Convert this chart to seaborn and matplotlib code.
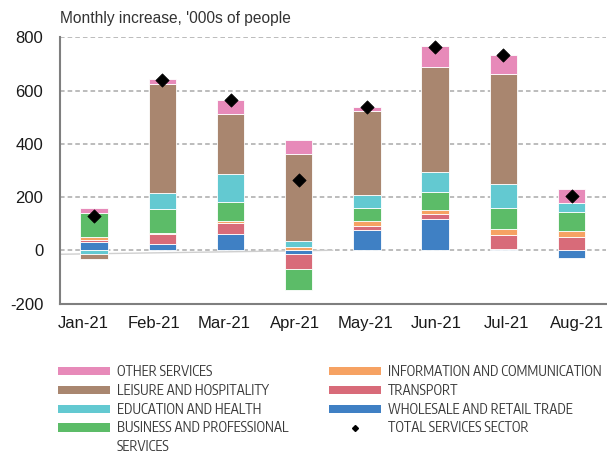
import numpy as np
import pandas as pd
import matplotlib
matplotlib.use("Agg")
import matplotlib.pyplot as plt
import seaborn as sns
from matplotlib.patches import Patch
from matplotlib.lines import Line2D
from matplotlib.ticker import FixedLocator
from matplotlib import font_manager

# ---------------- data ----------------
months = ["Jan-21", "Feb-21", "Mar-21", "Apr-21", "May-21", "Jun-21", "Jul-21", "Aug-21"]
wholesale_retail = [32, 22, 61, -15, 75, 116, 6, -29]
transport = [8, 38, 43, -55, 15, 21, 53, 50]
info_comm = [11, 5, 5, 11, 19, 14, 22, 21]
business_prof = [89, 91, 73, -79, 51, 69, 79, 73]
education_health = [-15, 58, 104, 24, 46, 74, 89, 35]
leisure_hosp = [-16, 411, 226, 326, 318, 395, 413, 0]
other_services = [20, 17, 52, 55, 13, 77, 70, 51]
total_services = [127, 641, 564, 265, 537, 764, 732, 202]
faint_line_y = [-15, 0]
y_ticks = [-200, 0, 200, 400, 600, 800]

series = [
    ("WHOLESALE AND RETAIL TRADE", wholesale_retail, "#3F80C4"),
    ("TRANSPORT", transport, "#D86B79"),
    ("INFORMATION AND COMMUNICATION", info_comm, "#F6A263"),
    ("BUSINESS AND PROFESSIONAL", business_prof, "#5CBC68"),
    ("EDUCATION AND HEALTH", education_health, "#63C9D1"),
    ("LEISURE AND HOSPITALITY", leisure_hosp, "#A9866F"),
    ("OTHER SERVICES", other_services, "#E78AB9"),
]
colors = {lab: c for lab, _, c in series}

# ---------------- style ----------------
sns.set_style("white")
plt.rcParams["font.family"] = ["Liberation Sans", "DejaVu Sans"]


def _is_regular(f):
    w = f.weight
    return (w in (400, "normal", "regular", "book", "Regular")) and f.style == "normal"


narrow = None
for f in font_manager.fontManager.ttflist:
    if f.name == "Liberation Sans Narrow" and _is_regular(f):
        narrow = f
        break
if narrow is None:
    for f in font_manager.fontManager.ttflist:
        if ("Narrow" in f.name or "Condensed" in f.name) and "Sans" in f.name and _is_regular(f) \
                and "DejaVu" not in f.name:
            narrow = f
            break

if narrow is not None:
    leg_size = 10.0
    legend_font = font_manager.FontProperties(fname=narrow.fname, size=leg_size)
    text_h = 1.0
else:
    leg_size = 8.3
    legend_font = font_manager.FontProperties(family=["Liberation Sans", "DejaVu Sans"], size=leg_size)
    text_h = 0.9

W, H = 607, 453
fig = plt.figure(figsize=(W / 100, H / 100), dpi=100)
ax = fig.add_axes([60 / W, 1 - 303.5 / H, 545.6 / W, 266.2 / H])

n = len(months)
pos_base = np.zeros(n)
neg_base = np.zeros(n)
for lab, vals, col in series:
    v = np.asarray(vals, dtype=float)
    bottom = np.where(v >= 0, pos_base, neg_base)
    sns.barplot(x=months, y=v, order=months, color=col, saturation=1, width=0.4,
                errorbar=None, bottom=bottom, edgecolor="white", linewidth=0.6,
                ax=ax, zorder=2)
    pos_base += np.clip(v, 0, None)
    neg_base += np.clip(v, None, 0)

# faint grey line near zero (left part of chart)
ax.plot([-0.5, 3.5], faint_line_y, color="#cfcfcf", lw=1.0, zorder=1.5)

sns.scatterplot(x=np.arange(n), y=total_services, marker="D", color="black",
                s=46, edgecolor="black", linewidth=0.5, ax=ax, zorder=4, legend=False)

ax.set_xlim(-0.5, n - 0.5)
ax.set_ylim(-200, 800)
ax.set_yticks(y_ticks)
ax.set_yticklabels([str(t) for t in y_ticks])
ax.yaxis.grid(True, color="#aaaaaa", linestyle=(0, (3, 2)), linewidth=1.1)
ax.xaxis.grid(False)
ax.set_axisbelow(True)
ax.set_xlabel("")
ax.set_ylabel("")

label_pos = -0.16 + np.arange(n) * (7.24 / 7)
ax.set_xticks(label_pos)
ax.set_xticklabels(months)
ax.xaxis.set_minor_locator(FixedLocator(np.arange(0.5, n, 1.0)))
ax.tick_params(axis="x", which="major", length=0, pad=9, labelsize=12, labelcolor="#1a1a1a")
ax.tick_params(axis="x", which="minor", direction="in", length=3, width=1, color="#999999")
ax.tick_params(axis="y", which="major", length=0, pad=12, labelsize=12, labelcolor="#1a1a1a")

for s in ["top", "right"]:
    ax.spines[s].set_visible(False)
for s in ["left", "bottom"]:
    ax.spines[s].set_color("#7f7f7f")
    ax.spines[s].set_linewidth(1.5)

fig.text(60 / W, 1 - 18 / H, "Monthly increase, '000s of people", ha="left", va="center",
         fontsize=11.2, color="#333333")

# ---------------- legends ----------------
fs_px = leg_size * 100 / 72
col1 = ["OTHER SERVICES", "LEISURE AND HOSPITALITY", "EDUCATION AND HEALTH", "BUSINESS AND PROFESSIONAL"]
col2 = ["INFORMATION AND COMMUNICATION", "TRANSPORT", "WHOLESALE AND RETAIL TRADE"]
pitch = 18.7
common = dict(loc="upper left", frameon=False, borderpad=0, borderaxespad=0,
              handlelength=52 / fs_px, handleheight=7.3 / fs_px, handletextpad=7 / fs_px,
              labelspacing=pitch / fs_px - text_h, prop=legend_font, labelcolor="#3a3a3a")
top_y = 1 - (372 - 0.5 * text_h * fs_px) / H
h1 = [Patch(facecolor=colors[l], edgecolor="none") for l in col1]
leg1 = fig.legend(h1, col1, bbox_to_anchor=(58 / W, top_y), **common)
h2 = [Patch(facecolor=colors[l], edgecolor="none") for l in col2]
h2.append(Line2D([], [], marker="D", color="black", linestyle="none", markersize=3))
leg2 = fig.legend(h2, col2 + ["TOTAL SERVICES SECTOR"], bbox_to_anchor=(329 / W, top_y), **common)

fig.canvas.draw()
t = leg1.get_texts()[3]
bb = t.get_window_extent()
x0, y0 = fig.transFigure.inverted().transform((bb.x0, bb.y0))
fig.text(x0, y0 - pitch / H, "SERVICES", ha="left", va="bottom",
         fontproperties=legend_font, color="#3a3a3a")

fig.savefig("out.png", dpi=100)
